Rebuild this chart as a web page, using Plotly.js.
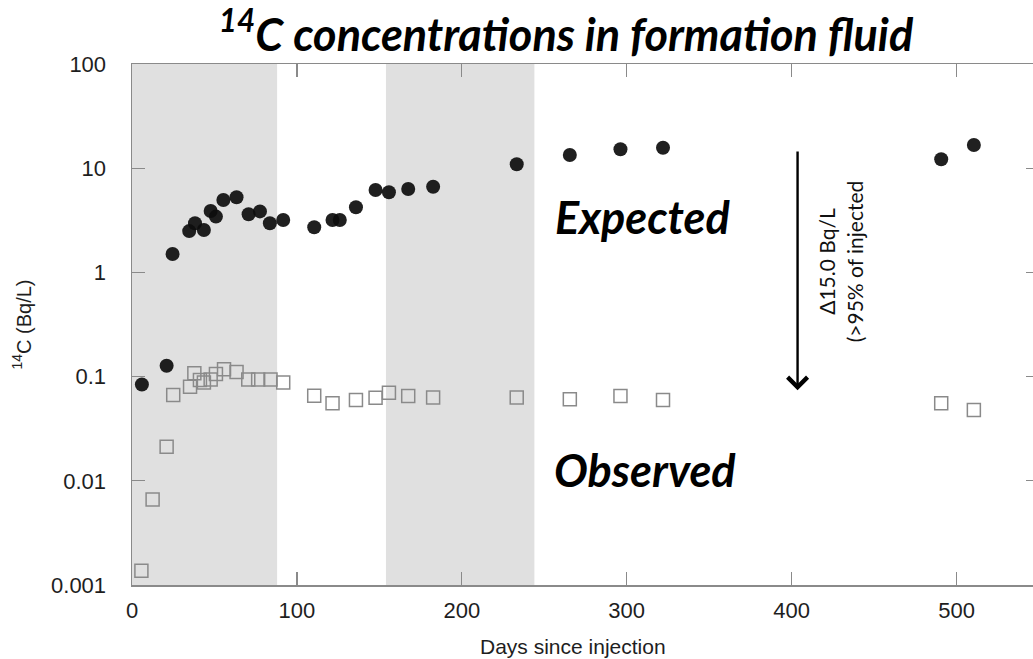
<!DOCTYPE html>
<html>
<head>
<meta charset="utf-8">
<script src="https://cdn.plot.ly/plotly-3.0.1.min.js"></script>
<style>
  html, body { margin: 0; padding: 0; overflow: hidden; background: #fff; }
  #chart { width: 1046px; height: 659px; }
</style>
</head>
<body>
<div id="chart"></div>
<script>
// Expected 14C (filled circles)
const expectedDays = [6, 21, 24.6, 34.7, 38.2, 43.6, 47.7, 50.9, 55.4, 63.4, 70.7, 77.6, 83.6, 91.7,
  110.5, 121.6, 126, 135.8, 147.7, 155.8, 167.5, 182.6, 233.3, 265.5, 296.2, 322, 490.7, 510.5];
const expectedValues = [0.084, 0.127, 1.5, 2.49, 2.96, 2.55, 3.88, 3.43, 4.95, 5.26, 3.61, 3.85, 2.96, 3.18,
  2.71, 3.18, 3.18, 4.22, 6.18, 5.87, 6.31, 6.63, 10.9, 13.4, 15.2, 15.7, 12.2, 16.7];

// Observed 14C (open squares)
const observedDays = [5.7, 12.5, 21, 25, 35.2, 37.8, 41.2, 43.6, 47.7, 50.9, 55.8, 63.4, 70.5, 76.5, 84, 91.7,
  110.5, 121.6, 135.8, 147.7, 155.8, 167.5, 182.6, 233.3, 265.5, 296.2, 322, 490.7, 510.5];
const observedValues = [0.00137, 0.0066, 0.0212, 0.0666, 0.080, 0.1077, 0.0927, 0.088, 0.094, 0.106, 0.1175, 0.111,
  0.094, 0.094, 0.094, 0.088,
  0.0656, 0.0555, 0.0596, 0.0628, 0.070, 0.065, 0.063, 0.063, 0.0605, 0.065, 0.0596, 0.0555, 0.0478];

// Shaded periods (days)
const shadedPeriods = [[0, 88], [154, 244]];

// Tick labels
const yTickVals = [0.001, 0.01, 0.1, 1, 10, 100];
const yTickText = ['0.001', '0.01', '0.1', '1', '10', '100'];
const xTickVals = [0, 100, 200, 300, 400, 500];

const traces = [
  {
    x: expectedDays, y: expectedValues, type: 'scatter', mode: 'markers', name: 'Expected',
    marker: { symbol: 'circle', size: 14, color: '#0d0d0d', opacity: 0.92 },
    hoverinfo: 'x+y'
  },
  {
    x: observedDays, y: observedValues, type: 'scatter', mode: 'markers', name: 'Observed',
    marker: { symbol: 'square-open', size: 13, color: '#8a8a8a', line: { width: 1.5, color: '#8a8a8a' } },
    hoverinfo: 'x+y'
  }
];

const shapes = shadedPeriods.map(p => ({
  type: 'rect', xref: 'x', yref: 'paper', x0: p[0], x1: p[1], y0: 0, y1: 1,
  fillcolor: '#e0e0e0', line: { width: 0 }, layer: 'below'
}));

const tickFont = { family: 'Liberation Sans, Arial, sans-serif', size: 22, color: '#1e1e1e' };
const titleFont = { family: 'Liberation Sans, Arial, sans-serif', size: 21, color: '#1e1e1e' };
const calib = 'Lato, Open Sans, sans-serif';

const layout = {
  width: 1046, height: 659,
  margin: { l: 132, r: 6.5, t: 64, b: 74 },
  paper_bgcolor: '#ffffff', plot_bgcolor: '#ffffff',
  showlegend: false,
  title: {
    text: '<sup>14</sup>C concentrations in formation fluid',
    font: { family: calib, size: 45, color: '#000', weight: 'bold', style: 'italic' },
    x: 566 / 1046, xref: 'container', xanchor: 'center',
    y: 1 - 35 / 659, yref: 'container', yanchor: 'middle'
  },
  xaxis: {
    range: [0, 550], tickvals: xTickVals, ticks: 'inside', ticklen: 13, tickwidth: 1.2, tickcolor: '#8a8a8a',
    showline: true, linecolor: '#8a8a8a', linewidth: 1.5, mirror: 'ticks', showgrid: false, zeroline: false,
    tickfont: tickFont, ticklabelstandoff: 5
  },
  yaxis: {
    type: 'log', range: [-3, 2], tickvals: yTickVals, ticktext: yTickText,
    ticks: 'inside', ticklen: 13, tickwidth: 1.2, tickcolor: '#8a8a8a',
    showline: true, linecolor: '#8a8a8a', linewidth: 1.5, mirror: 'ticks', showgrid: false, zeroline: false,
    tickfont: tickFont, ticklabelstandoff: 20,
    title: { text: '<sup>14</sup>C (Bq/L)', font: { family: 'Liberation Sans, Arial, sans-serif', size: 20, color: '#1e1e1e' }, standoff: 14 }
  },
  shapes: shapes,
  annotations: [
    {
      xref: 'paper', yref: 'paper', x: (573 - 132) / 907.5, y: -0.118, text: 'Days since injection', showarrow: false,
      font: titleFont, xanchor: 'center', yanchor: 'middle'
    },
    {
      xref: 'x', yref: 'y', x: 309.7, y: 0.532, text: '<b><i>Expected</i></b>', showarrow: false,
      font: { family: calib, size: 45, color: '#000' }, xanchor: 'center', yanchor: 'middle'
    },
    {
      xref: 'x', yref: 'y', x: 311, y: -1.896, text: '<b><i>Observed</i></b>', showarrow: false,
      font: { family: calib, size: 45, color: '#000' }, xanchor: 'center', yanchor: 'middle'
    },
    {
      xref: 'x', yref: 'y', axref: 'x', ayref: 'y',
      x: 403.6, y: -1.13, ax: 403.6, ay: 1.175, text: '', showarrow: true,
      arrowhead: 4, arrowsize: 1.6, arrowwidth: 2.4, arrowcolor: '#000'
    },
    {
      xref: 'x', yref: 'y', x: 429.5, y: 0.109, text: 'Δ15.0 Bq/L<br>(>95% of injected', showarrow: false,
      textangle: -90, font: { family: calib, size: 21, color: '#111' }, xanchor: 'center', yanchor: 'middle'
    }
  ]
};

Plotly.newPlot('chart', traces, layout, { displayModeBar: false, staticPlot: true });
</script>
</body>
</html>
